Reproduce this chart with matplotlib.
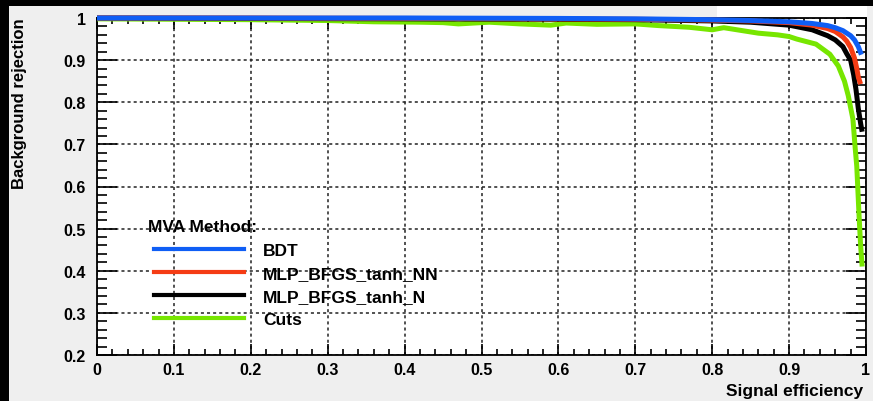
import matplotlib
matplotlib.use("Agg")
import matplotlib.pyplot as plt
from matplotlib.patches import Rectangle
from matplotlib.lines import Line2D
from matplotlib.ticker import MultipleLocator

plt.rcParams['font.family'] = ['Liberation Sans', 'DejaVu Sans']
plt.rcParams['font.weight'] = 'bold'

# ---------------- data ----------------
bdt_eff = [0.0, 0.2, 0.4, 0.6, 0.7, 0.8, 0.85, 0.9, 0.93, 0.95, 0.96, 0.97, 0.98, 0.985, 0.99, 0.994]
bdt_rej = [1.0, 1.0, 1.0, 0.999, 0.998, 0.996, 0.994, 0.991, 0.987, 0.982, 0.977, 0.970, 0.958, 0.948, 0.932, 0.913]

nn_eff = [0.0, 0.2, 0.4, 0.6, 0.7, 0.8, 0.85, 0.9, 0.93, 0.95, 0.96, 0.97, 0.975, 0.98, 0.985, 0.988, 0.99, 0.993]
nn_rej = [1.0, 1.0, 0.999, 0.998, 0.997, 0.995, 0.993, 0.989, 0.983, 0.975, 0.968, 0.955, 0.945, 0.930, 0.905, 0.880, 0.860, 0.843]

n_eff = [0.0, 0.2, 0.4, 0.6, 0.7, 0.8, 0.85, 0.9, 0.93, 0.95, 0.96, 0.97, 0.975, 0.98, 0.984, 0.987, 0.99, 0.993, 0.995]
n_rej = [1.0, 0.999, 0.998, 0.997, 0.996, 0.993, 0.990, 0.983, 0.972, 0.958, 0.948, 0.932, 0.915, 0.900, 0.865, 0.830, 0.785, 0.750, 0.730]

cuts_eff = [0.0, 0.1, 0.2, 0.3, 0.36, 0.42, 0.45, 0.47, 0.51, 0.55, 0.59, 0.61, 0.65, 0.70, 0.73,
            0.77, 0.80, 0.815, 0.86, 0.885, 0.90, 0.91, 0.935, 0.953, 0.964, 0.972, 0.977, 0.983,
            0.986, 0.988, 0.991, 0.993, 0.995]
cuts_rej = [0.998, 0.997, 0.996, 0.994, 0.991, 0.990, 0.989, 0.986, 0.990, 0.986, 0.983, 0.988, 0.985,
            0.986, 0.982, 0.978, 0.972, 0.977, 0.964, 0.960, 0.956, 0.950, 0.938, 0.914, 0.886, 0.850,
            0.815, 0.760, 0.690, 0.648, 0.530, 0.460, 0.410]

methods = ["BDT", "MLP_BFGS_tanh_NN", "MLP_BFGS_tanh_N", "Cuts"]
colors = ["#0f5ef5", "#f53c14", "#000000", "#77e600"]
x_ticks = [0, 0.1, 0.2, 0.3, 0.4, 0.5, 0.6, 0.7, 0.8, 0.9, 1]
y_ticks = [0.2, 0.3, 0.4, 0.5, 0.6, 0.7, 0.8, 0.9, 1]
x_ticklabels = ["0", "0.1", "0.2", "0.3", "0.4", "0.5", "0.6", "0.7", "0.8", "0.9", "1"]
y_ticklabels = ["0.2", "0.3", "0.4", "0.5", "0.6", "0.7", "0.8", "0.9", "1"]

# ---------------- figure ----------------
W, H = 873, 402
fig = plt.figure(figsize=(W / 100, H / 100), dpi=100, facecolor='#efefef')
fig.patches.append(Rectangle((0, 1 - 7 / H), 1, 7 / H, transform=fig.transFigure,
                             facecolor='black', edgecolor='none', zorder=0))
fig.patches.append(Rectangle((0, 0), 9 / W, 1, transform=fig.transFigure,
                             facecolor='black', edgecolor='none', zorder=0))
fig.patches.append(Rectangle((717 / W, 1 - 18 / H), (867 - 717) / W, 11 / H, transform=fig.transFigure,
                             facecolor='white', edgecolor='none', zorder=0))

ax = fig.add_axes([97 / W, 1 - 356 / H, (866 - 97) / W, (356 - 19) / H])
ax.set_facecolor('white')
ax.set_xlim(0, 1)
ax.set_ylim(0.2, 1)

ax.set_xticks(x_ticks)
ax.set_xticklabels(x_ticklabels)
ax.set_yticks(y_ticks)
ax.set_yticklabels(y_ticklabels)
ax.xaxis.set_minor_locator(MultipleLocator(0.02))
ax.yaxis.set_minor_locator(MultipleLocator(0.02))

ax.tick_params(which='both', direction='in', top=True, right=True, colors='black', width=1.2)
ax.tick_params(axis='x', which='major', length=8, pad=5, labelsize=11.5)
ax.tick_params(axis='x', which='minor', length=4)
ax.tick_params(axis='y', which='major', length=14.5, pad=8, labelsize=11.5)
ax.tick_params(axis='y', which='minor', length=7)
for lab in ax.get_xticklabels() + ax.get_yticklabels():
    lab.set_fontweight('bold')

for s in ax.spines.values():
    s.set_linewidth(1.3)
    s.set_color('black')

ax.grid(which='major', color='#222222', linestyle=(0, (2, 2)), linewidth=1.1)
ax.set_axisbelow(True)

series = [(cuts_eff, cuts_rej, 3), (n_eff, n_rej, 2), (nn_eff, nn_rej, 1), (bdt_eff, bdt_rej, 0)]
for eff, rej, i in series:
    ax.plot(eff, rej, color=colors[i], lw=3.6, clip_on=False, zorder=3 + (3 - i) * 0.1,
            solid_capstyle='butt')

handles = [Line2D([], [], color=c, lw=3.0) for c in colors]
leg = ax.legend(handles, methods, loc='upper left',
                bbox_to_anchor=(154 / W, 1 - 244 / H), bbox_transform=fig.transFigure,
                frameon=False, prop={'size': 12.5, 'weight': 'bold'},
                handlelength=5.2, handletextpad=1.1, labelspacing=0.45, borderpad=0,
                borderaxespad=0)
fig.text(148 / W, 1 - 228 / H, "MVA Method:", ha='left', va='center',
         fontsize=12.5, fontweight='bold')

fig.text(863 / W, 1 - 392 / H, "Signal efficiency", ha='right', va='center',
         fontsize=12.5, fontweight='bold')
fig.text(12 / W, 1 - 18 / H, "Background rejection", ha='left', va='top', rotation=90,
         fontsize=12, fontweight='bold')

fig.savefig('out.png', dpi=100, facecolor=fig.get_facecolor())
